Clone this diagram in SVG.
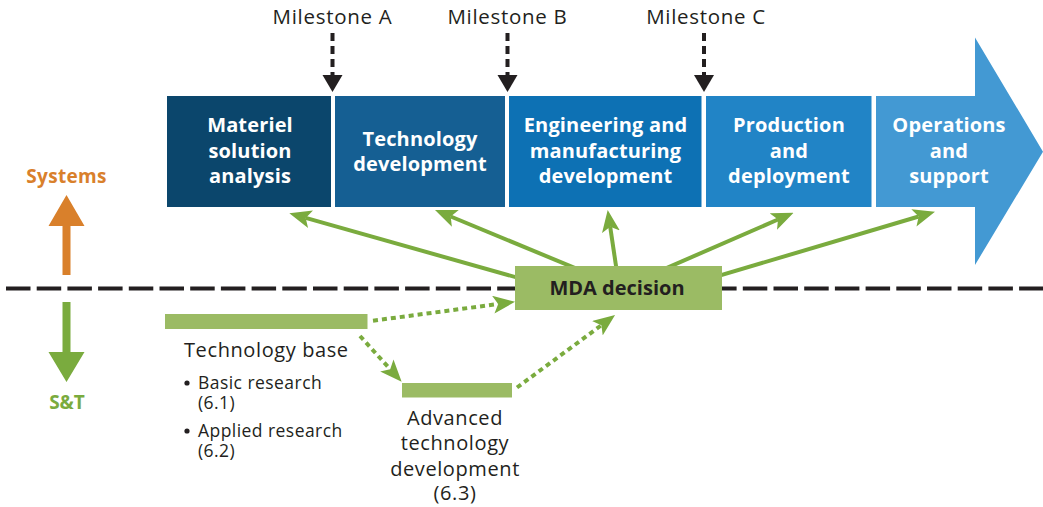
<svg xmlns="http://www.w3.org/2000/svg" width="1043" height="507" viewBox="0 0 1043 507">
  <style>
    .lbl { font-family: "Open Sans", "Noto Sans", "Liberation Sans", sans-serif; fill: #231f20; }
    .phase { font-family: "Open Sans", "Noto Sans", "Liberation Sans", sans-serif; font-weight: 700; font-size: 20px; fill: #ffffff; text-anchor: middle; letter-spacing: 0.15px; }
    .ms { font-size: 20.5px; text-anchor: middle; letter-spacing: 0.7px; }
    .body { font-size: 20px; letter-spacing: 0.6px; }
    .bullet { font-size: 17.5px; letter-spacing: 0.45px; }
    .mslink { stroke: #231f20; stroke-width: 4; stroke-dasharray: 8 5; fill: none; }
    .feed { stroke: #7aab3e; stroke-width: 4; fill: none; marker-end: url(#gh); }
    .dot { stroke: #7aab3e; stroke-width: 4; fill: none; stroke-dasharray: 5 4; marker-end: url(#gh); }
    .bar { fill: #9bbb64; }
  </style>
  <defs>
    <marker id="gh" viewBox="0 0 22 18" refX="5" refY="9" markerWidth="22" markerHeight="18" markerUnits="userSpaceOnUse" orient="auto">
      <path d="M0,0 L22,9 L0,18 L5,9 Z" fill="#7aab3e"/>
    </marker>
  </defs>

  <rect width="1043" height="507" fill="#ffffff"/>

  <!-- boundary between systems and S&T -->
  <line x1="6" y1="288.5" x2="1043" y2="288.5" stroke="#231f20" stroke-width="4.2" stroke-dasharray="24.5 6.2"/>

  <!-- side arrows -->
  <g id="systems">
    <polygon points="62.5,275 62.5,226 48.5,226 66.5,195 84.5,226 70.5,226 70.5,275" fill="#d9802b"/>
    <text x="66.5" y="183" text-anchor="middle" font-family="Open Sans, Noto Sans, Liberation Sans, sans-serif" font-weight="700" font-size="19px" letter-spacing="0.3" fill="#d9802b">Systems</text>
  </g>
  <g id="snt">
    <polygon points="62.5,302 62.5,352 48.5,352 66.5,382 84.5,352 70.5,352 70.5,302" fill="#7aab3e"/>
    <text x="67" y="409" text-anchor="middle" font-family="Open Sans, Noto Sans, Liberation Sans, sans-serif" font-weight="700" font-size="19px" fill="#7aab3e">S&amp;T</text>
  </g>

  <!-- acquisition phases -->
  <g id="phase-msa">
    <rect x="167" y="96" width="164" height="111" fill="#0b466c"/>
    <text class="phase" x="250" y="132">Materiel</text>
    <text class="phase" x="250" y="157.5">solution</text>
    <text class="phase" x="250" y="183">analysis</text>
  </g>
  <g id="phase-td">
    <rect x="335" y="96" width="170" height="111" fill="#155f93"/>
    <text class="phase" x="420" y="146">Technology</text>
    <text class="phase" x="420" y="170.5">development</text>
  </g>
  <g id="phase-emd">
    <rect x="509" y="96" width="192.5" height="111" fill="#0d71b4"/>
    <text class="phase" x="605.5" y="132">Engineering and</text>
    <text class="phase" x="605.5" y="157.5">manufacturing</text>
    <text class="phase" x="605.5" y="183">development</text>
  </g>
  <g id="phase-pd">
    <rect x="706" y="96" width="165.5" height="111" fill="#2184c6"/>
    <text class="phase" x="789" y="132">Production</text>
    <text class="phase" x="789" y="157.5">and</text>
    <text class="phase" x="789" y="183">deployment</text>
  </g>
  <g id="phase-os">
    <polygon points="876,96 975,96 975,37.5 1043,151.7 975,265 975,207 876,207" fill="#4399d3"/>
    <text class="phase" x="949" y="132">Operations</text>
    <text class="phase" x="949" y="157.5">and</text>
    <text class="phase" x="949" y="183">support</text>
  </g>

  <!-- milestones -->
  <g id="milestone-a">
    <text class="lbl ms" x="332.5" y="24">Milestone A</text>
    <line class="mslink" x1="332.5" y1="33" x2="332.5" y2="76"/>
    <polygon points="322.5,75 342.5,75 332.5,92" fill="#231f20"/>
  </g>
  <g id="milestone-b">
    <text class="lbl ms" x="507.5" y="24">Milestone B</text>
    <line class="mslink" x1="507.5" y1="33" x2="507.5" y2="76"/>
    <polygon points="497.5,75 517.5,75 507.5,92" fill="#231f20"/>
  </g>
  <g id="milestone-c">
    <text class="lbl ms" x="706" y="24">Milestone C</text>
    <line class="mslink" x1="704" y1="33" x2="704" y2="76"/>
    <polygon points="694,75 714,75 704,92" fill="#231f20"/>
  </g>

  <!-- connectors -->
  <g id="connectors">
    <path class="feed" d="M560,289.7 L305.7,217.9"/>
    <path class="feed" d="M600,278.4 L450.7,216.5"/>
    <path class="feed" d="M618.1,280 L610.2,226.8"/>
    <path class="feed" d="M640,279.6 L778,219.5"/>
    <path class="feed" d="M690,284.4 L918.7,216.5"/>
    <path class="dot" d="M373,320.7 L498.2,304"/>
    <path class="dot" d="M360,336 L390.2,369.2"/>
    <path class="dot" d="M517,387.5 L601.4,325.2"/>
  </g>

  <!-- decision point -->
  <g id="mda">
    <rect x="515" y="266" width="207" height="44" fill="#9bbb64"/>
    <text class="lbl" x="617" y="295" text-anchor="middle" font-weight="700" font-size="20px">MDA decision</text>
  </g>

  <!-- S&T funding lines -->
  <g id="tech-base">
    <rect class="bar" x="165" y="314" width="202.5" height="15"/>
    <text class="lbl body" x="184" y="356.7">Technology base</text>
    <circle cx="187" cy="383" r="2.6" fill="#231f20"/>
    <text class="lbl bullet" x="198" y="389">Basic research</text>
    <text class="lbl bullet" x="198" y="409.3">(6.1)</text>
    <circle cx="187" cy="431" r="2.6" fill="#231f20"/>
    <text class="lbl bullet" x="198" y="436.7">Applied research</text>
    <text class="lbl bullet" x="198" y="456.7">(6.2)</text>
  </g>
  <g id="adv-tech">
    <rect class="bar" x="402" y="383" width="110" height="14.5"/>
    <text class="lbl body" x="455" y="425" text-anchor="middle">Advanced</text>
    <text class="lbl body" x="455" y="450" text-anchor="middle">technology</text>
    <text class="lbl body" x="455" y="475.5" text-anchor="middle">development</text>
    <text class="lbl body" x="455" y="500" text-anchor="middle">(6.3)</text>
  </g>
</svg>
